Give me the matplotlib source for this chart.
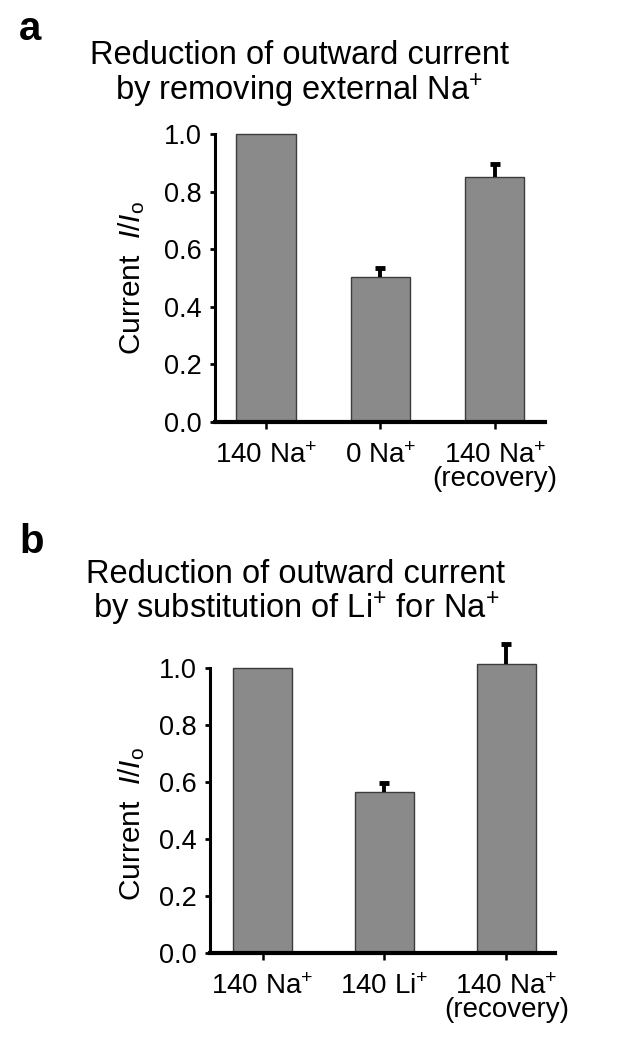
import numpy as np
import matplotlib
matplotlib.use("Agg")
import matplotlib.pyplot as plt

plt.rcParams['font.family'] = ['Liberation Sans', 'DejaVu Sans']
plt.rcParams['mathtext.fontset'] = 'custom'
plt.rcParams['mathtext.rm'] = 'Liberation Sans'
plt.rcParams['mathtext.it'] = 'Liberation Sans:italic'
plt.rcParams['mathtext.bf'] = 'Liberation Sans:bold'

# panel a: removing external Na+
labels_a = ["140 Na$^{+}$", "0 Na$^{+}$", "140 Na$^{+}$\n(recovery)"]
values_a = [1.0, 0.505, 0.852]
errors_a = [0.0, 0.030, 0.045]

# panel b: Li+ substitution
labels_b = ["140 Na$^{+}$", "140 Li$^{+}$", "140 Na$^{+}$\n(recovery)"]
values_b = [1.0, 0.565, 1.015]
errors_b = [0.0, 0.033, 0.068]

yticks = [0.0, 0.2, 0.4, 0.6, 0.8, 1.0]


def draw_panel(ax, labels, values, errors, xlim, width, ylabel_pos):
    x = np.arange(len(values))
    ax.bar(x, values, width=width, color="#8a8a8a", edgecolor="#3c3c3c",
           linewidth=1.0, zorder=2)
    err = np.array(errors)
    has = err > 0
    _, caps, _ = ax.errorbar(x[has], np.array(values)[has],
                             yerr=[np.zeros(has.sum()), err[has]],
                             fmt="none", ecolor="black", elinewidth=2.8,
                             capsize=3.5, capthick=3.5, zorder=3)
    # only the upper cap is drawn in the original
    caps[0].set_visible(False)
    ax.set_xlim(*xlim)
    ax.set_ylim(0, 1.1)
    ax.set_xticks(x)
    ax.set_xticklabels(labels, fontsize=20, linespacing=0.85)
    ax.set_yticks(yticks)
    ax.set_yticklabels(["%.1f" % t for t in yticks], fontsize=19.5)
    for s in ["top", "right"]:
        ax.spines[s].set_visible(False)
    ax.spines["left"].set_linewidth(2.2)
    ax.spines["left"].set_bounds(0, 1.0)
    ax.spines["bottom"].set_linewidth(3.0)
    ax.tick_params(axis="y", length=3.5, width=2, pad=6)
    ax.tick_params(axis="x", length=5, width=1.8, pad=10)
    ax.set_ylabel("Current  $\\mathit{I/I}_{\\mathrm{o}}$", fontsize=21.5)
    ax.yaxis.set_label_coords(*ylabel_pos)


fig = plt.figure(figsize=(6.42, 10.5), dpi=100)

ax1 = fig.add_axes([0.3349, 0.5981, 0.514, 0.3017])
draw_panel(ax1, labels_a, values_a, errors_a, (-0.445, 2.44), 0.52, (-0.205, 0.455))

ax2 = fig.add_axes([0.3271, 0.0924, 0.5374, 0.2986])
draw_panel(ax2, labels_b, values_b, errors_b, (-0.431, 2.40), 0.48, (-0.182, 0.41))

H = 1050.0
fig.text(19 / 642, 1 - 40 / H, "a", fontsize=29, fontweight="bold", va="baseline")
fig.text(299 / 642, 1 - 64 / H, "Reduction of outward current", fontsize=23.5,
         ha="center", va="baseline")
fig.text(299 / 642, 1 - 100 / H, "by removing external Na$^{+}$", fontsize=23.5,
         ha="center", va="baseline")

fig.text(19 / 642, 1 - 553 / H, "b", fontsize=29, fontweight="bold", va="baseline")
fig.text(296 / 642, 1 - 583 / H, "Reduction of outward current", fontsize=23.5,
         ha="center", va="baseline")
fig.text(296 / 642, 1 - 618 / H, "by substitution of Li$^{+}$ for Na$^{+}$", fontsize=23.5,
         ha="center", va="baseline")

fig.savefig("out.png", dpi=100)
